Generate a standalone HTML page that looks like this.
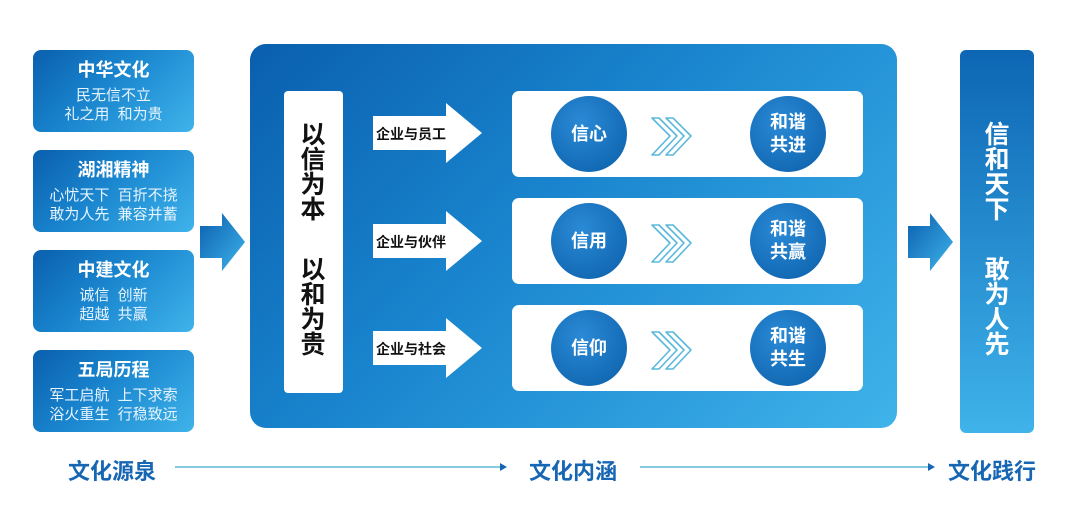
<!DOCTYPE html>
<html><head><meta charset="utf-8"><style>
body{margin:0;width:1080px;height:531px;background:#fff;position:relative;overflow:hidden;font-family:"Liberation Sans","Noto Sans CJK SC",sans-serif;}
.a{position:absolute;}
.g{background:linear-gradient(135deg,#0a5fae 0%,#1a86cf 45%,#3fb3ea 100%);}
.lb{left:33px;width:161px;height:82px;border-radius:8px;color:#fff;text-align:center;}
.lb b{display:block;font-size:18px;margin-top:9px;line-height:22px;}
.lb span{display:block;font-size:15px;line-height:19px;margin-top:5px;color:#e6f4ff;white-space:pre;}
.row{left:512px;width:351px;height:86px;background:#fff;border-radius:7px;}
.c{position:absolute;width:76px;height:76px;border-radius:50%;background:radial-gradient(circle at 40% 35%,#2a8ad6,#0b5ea8);color:#fff;font-weight:bold;display:flex;align-items:center;justify-content:center;text-align:center;font-size:18px;line-height:23px;top:5px;}
.v{font-weight:bold;font-size:25px;line-height:25px;width:30px;text-align:center;}
.bl{color:#1766b3;font-weight:bold;font-size:22px;top:454px;}
</style></head><body>
<div class="a lb g" style="top:50px"><b>中华文化</b><span>民无信不立
礼之用  和为贵</span></div>
<div class="a lb g" style="top:150px"><b>湖湘精神</b><span>心忧天下  百折不挠
敢为人先  兼容并蓄</span></div>
<div class="a lb g" style="top:250px"><b>中建文化</b><span>诚信  创新
超越  共赢</span></div>
<div class="a lb g" style="top:350px"><b>五局历程</b><span>军工启航  上下求索
浴火重生  行稳致远</span></div>

<svg class="a" style="left:0;top:0" width="1080" height="531">
<defs><linearGradient id="ag" x1="0" y1="0" x2="1" y2="1"><stop offset="0" stop-color="#0a5fae"/><stop offset="1" stop-color="#3fb3ea"/></linearGradient></defs>
<polygon points="200,226 222,226 222,213 245,242 222,271 222,258 200,258" fill="url(#ag)"/>
<polygon points="908,226 930,226 930,213 953,242 930,271 930,258 908,258" fill="url(#ag)"/>
<line x1="175" y1="467" x2="500" y2="467" stroke="#5fb9d6" stroke-width="1.5"/><polygon points="500,463 507,467 500,471" fill="#1766b3"/>
<line x1="640" y1="467" x2="928" y2="467" stroke="#5fb9d6" stroke-width="1.5"/><polygon points="928,463 935,467 928,471" fill="#1766b3"/>
</svg>

<div class="a g" style="left:250px;top:44px;width:647px;height:384px;border-radius:16px;"></div>
<div class="a" style="left:284px;top:91px;width:59px;height:302px;background:#fff;border-radius:4px;"></div>
<div class="a v" style="left:298px;top:123px;color:#111">以信为本</div>
<div class="a v" style="left:298px;top:258px;color:#111">以和为贵</div>

<svg class="a" style="left:0;top:0" width="1080" height="531">
<g fill="#fff">
<polygon points="373,116 446,116 446,103 482,133 446,163 446,150 373,150"/>
<polygon points="373,224 446,224 446,211 482,241 446,271 446,258 373,258"/>
<polygon points="373,331 446,331 446,318 482,348 446,378 446,365 373,365"/>
</g>
</svg>
<div class="a" style="left:376px;top:124px;font-size:14px;font-weight:bold;color:#111">企业与员工</div>
<div class="a" style="left:376px;top:232px;font-size:14px;font-weight:bold;color:#111">企业与伙伴</div>
<div class="a" style="left:376px;top:339px;font-size:14px;font-weight:bold;color:#111">企业与社会</div>

<div class="a row" style="top:91px"><div class="c" style="left:39px">信心</div><div class="c" style="left:238px">和谐<br>共进</div></div>
<div class="a row" style="top:198px"><div class="c" style="left:39px">信用</div><div class="c" style="left:238px">和谐<br>共赢</div></div>
<div class="a row" style="top:305px"><div class="c" style="left:39px">信仰</div><div class="c" style="left:238px">和谐<br>共生</div></div>
<svg class="a" style="left:0;top:0" width="1080" height="531">
<g fill="none" stroke="#5ab8dc" stroke-width="1.6" stroke-linejoin="round">
<path d="M652,118 L670,136 L652,155 L659,155 L677,136 L659,118 Z M666,118 L684,136 L666,155 L673,155 L691,136 L673,118 Z"/>
<path d="M652,225 L670,243 L652,262 L659,262 L677,243 L659,225 Z M666,225 L684,243 L666,262 L673,262 L691,243 L673,225 Z"/>
<path d="M652,332 L670,350 L652,369 L659,369 L677,350 L659,332 Z M666,332 L684,350 L666,369 L673,369 L691,350 L673,332 Z"/>
</g>
</svg>

<div class="a g" style="left:960px;top:50px;width:74px;height:383px;border-radius:6px;background:linear-gradient(180deg,#0d66b4,#3fb3ea);"></div>
<div class="a v" style="left:982px;top:123px;color:#fff">信和天下</div>
<div class="a v" style="left:982px;top:258px;color:#fff">敢为人先</div>

<div class="a bl" style="left:68px">文化源泉</div>
<div class="a bl" style="left:529px">文化内涵</div>
<div class="a bl" style="left:948px">文化践行</div>
</body></html>
